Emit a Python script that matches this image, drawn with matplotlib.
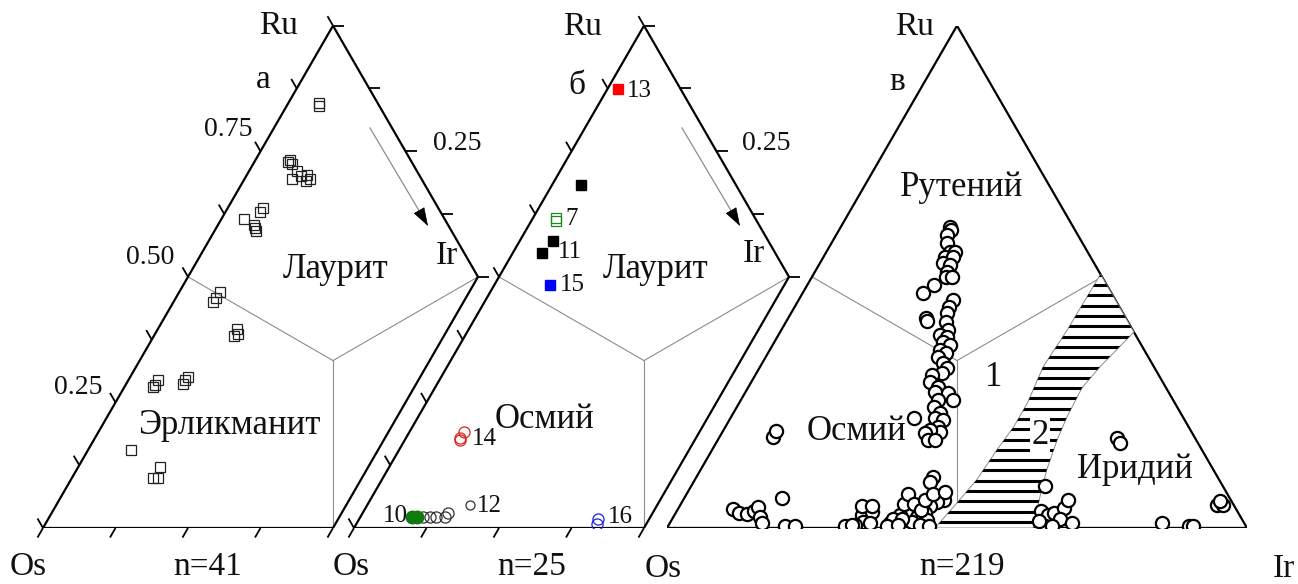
import numpy as np
import matplotlib.pyplot as plt
from matplotlib.transforms import Affine2D
from matplotlib.patches import Polygon

plt.rcParams['font.family'] = ['Liberation Serif', 'DejaVu Serif']

W, H = 1298, 584
S3 = np.sqrt(3) / 2

# ---- panel а : n=41, open squares (fractions Ru, Ir; Os = 1 - Ru - Ir)
a_ru = [0.846, 0.840, 0.729, 0.733, 0.725, 0.711, 0.695, 0.701, 0.703, 0.695, 0.690,
        0.637, 0.629, 0.615, 0.603, 0.591, 0.598, 0.470, 0.458, 0.450, 0.396, 0.382,
        0.386, 0.295, 0.285, 0.281, 0.301, 0.287, 0.295, 0.155, 0.121, 0.100, 0.100]
a_ir = [0.053, 0.056, 0.058, 0.060, 0.067, 0.083, 0.081, 0.095, 0.104, 0.113, 0.108,
        0.060, 0.059, 0.039, 0.062, 0.071, 0.066, 0.070, 0.069, 0.068, 0.136, 0.138,
        0.143, 0.051, 0.051, 0.050, 0.100, 0.098, 0.098, 0.074, 0.142, 0.140, 0.148]

# ---- panel б : n=25, numbered analyses
b_black_ru, b_black_ir = [0.683, 0.571, 0.547], [0.050, 0.057, 0.050]
b13_ru, b13_ir = [0.874], [0.018]
b7_ru, b7_ir = [0.617, 0.611], [0.040, 0.043]
b15_ru, b15_ir = [0.484], [0.096]
b14_ru, b14_ir = [0.191, 0.175, 0.180], [0.095, 0.096, 0.093]
b10_ru, b10_ir = [0.022, 0.022], [0.089, 0.098]
b12_ru, b12_ir = [0.046], [0.177]
b_open_ru = [0.022, 0.022, 0.022, 0.022, 0.030]
b_open_ir = [0.108, 0.120, 0.130, 0.146, 0.147]
b16_ru, b16_ir = [0.018, 0.008], [0.412, 0.415]

# ---- panel в : n=219
v_ru = [0.599, 0.593, 0.583, 0.567, 0.549, 0.549, 0.540, 0.540, 0.528, 0.524, 0.510, 0.500, 0.500,
        0.484, 0.468,
        0.454, 0.440, 0.428, 0.418, 0.412, 0.410, 0.394, 0.384, 0.380, 0.370, 0.364, 0.354,
        0.348, 0.340, 0.328, 0.319, 0.309,
        0.305, 0.291, 0.281, 0.271, 0.269, 0.255, 0.255, 0.241, 0.229, 0.219, 0.215, 0.201,
        0.191, 0.195, 0.189, 0.219, 0.175, 0.175,
        0.102, 0.092,
        0.056, 0.052, 0.044, 0.036, 0.030, 0.030, 0.026, 0.022, 0.016, 0.012, 0.016, 0.010,
        0.006, 0.006, 0.026, 0.032, 0.012, 0.006, 0.002, 0.004, 0.006, 0.010, 0.044, 0.044,
        0.018, 0.018, 0.048, 0.068, 0.048, 0.036, 0.056, 0.068, 0.072, 0.004, 0.004, 0.006,
        0.037, 0.030, 0.027, 0.033, 0.041, 0.022, 0.010,
        0.060, 0.004, 0.004,
        0.084, 0.034, 0.026, 0.030, 0.040, 0.056, 0.018, 0.010, 0.004, 0.014, 0.004,
        0.010, 0.004, 0.004, 0.046, 0.046, 0.054,
        0.179, 0.169, 0.181, 0.193]
v_ir = [0.188, 0.194, 0.192, 0.199, 0.213, 0.222, 0.209, 0.223, 0.212, 0.226, 0.228, 0.231, 0.241,
        0.218, 0.207,
        0.266, 0.266, 0.269, 0.238, 0.242, 0.276, 0.287, 0.279, 0.293, 0.291, 0.306, 0.294,
        0.307, 0.297, 0.312, 0.324, 0.320,
        0.305, 0.308, 0.326, 0.327, 0.350, 0.366, 0.339, 0.339, 0.357, 0.353, 0.369, 0.366,
        0.376, 0.356, 0.351, 0.317, 0.362, 0.374,
        0.408, 0.407,
        0.450, 0.440, 0.431, 0.418, 0.430, 0.399, 0.389, 0.420, 0.397, 0.416, 0.440, 0.379,
        0.390, 0.433, 0.323, 0.337, 0.332, 0.321, 0.309, 0.305, 0.316, 0.345, 0.314, 0.331,
        0.381, 0.396, 0.385, 0.382, 0.402, 0.420, 0.417, 0.425, 0.443, 0.450, 0.377, 0.395,
        0.096, 0.109, 0.125, 0.134, 0.137, 0.149, 0.159,
        0.168, 0.201, 0.219,
        0.610, 0.628, 0.644, 0.652, 0.664, 0.663, 0.669, 0.693, 0.650, 0.634, 0.662,
        0.848, 0.898, 0.905, 0.925, 0.936, 0.926,
        0.686, 0.696, 0.092, 0.091]

# field 2 (hatched) outline
f2_ru = [0.505, 0.390, 0.321, 0.279, 0.221, 0.175, 0.115, 0.062, 0.0,
         0.0, 0.050, 0.096, 0.155, 0.201, 0.249, 0.321, 0.394, 0.460]
f2_ir = [0.495, 0.610, 0.586, 0.576, 0.579, 0.585, 0.597, 0.612, 0.631,
         0.462, 0.475, 0.486, 0.491, 0.497, 0.497, 0.488, 0.493, 0.494]

fig = plt.figure(figsize=(W / 100, H / 100), dpi=100)

BASE = 528
SIDE = 580
TICK = 11 / SIDE
GRAY = '#8c8c8c'


def make_panel(ox):
    ax = fig.add_axes([ox / W, (H - BASE) / H, SIDE / W, SIDE * S3 / H])
    ax.set_xlim(0, 1)
    ax.set_ylim(0, S3)
    ax.axis('off')
    ax.patch.set_alpha(0)
    tern = Affine2D(np.array([[1, 0.5, 0], [0, S3, 0], [0, 0, 1]])) + ax.transData
    return ax, tern


def fields(ax, tern):
    c = 1 / 3
    for ir, ru in [(0, 0.5), (0.5, 0.5), (0.5, 0)]:
        ax.plot([c, ir], [c, ru], color=GRAY, lw=0.8, transform=tern, zorder=1)


def ticks(ax, ru_vals, ir_vals, ang):
    th = np.deg2rad(ang)
    for ru, ir in zip(ru_vals, ir_vals):
        x, y = ir + ru / 2, ru * S3
        ax.plot([x, x + TICK * np.cos(th)], [y, y + TICK * np.sin(th)],
                color='black', lw=1.3, solid_capstyle='butt', clip_on=False)


def half_panel(ox):
    ax, tern = make_panel(ox)
    fields(ax, tern)
    ax.plot([0, 0, 0.5, 0.5, 0], [0, 1, 0.5, 0, 0], color='black', lw=1.6,
            transform=tern, zorder=2, solid_joinstyle='miter')
    k = np.arange(0, 1.001, 0.125)
    ticks(ax, k, np.zeros_like(k), 120)
    kb = np.arange(0, 0.501, 0.125)
    ticks(ax, np.zeros_like(kb), kb, 240)
    kr = np.arange(0.5, 1.001, 0.125)
    ticks(ax, kr, 1 - kr, 0)
    return ax, tern


# panel а
ax_a, t_a = half_panel(43)
ax_a.plot(a_ir, a_ru, 's', ms=7, mfc='none', mec='#222222', mew=0.9, transform=t_a, zorder=3)

# panel б
ax_b, t_b = half_panel(354)
ax_b.plot(b_black_ir, b_black_ru, 's', ms=7, color='black', transform=t_b, zorder=3)
ax_b.plot(b13_ir, b13_ru, 's', ms=7, color='#ff0000', transform=t_b, zorder=3)
ax_b.plot(b15_ir, b15_ru, 's', ms=7, color='#0000ff', transform=t_b, zorder=3)
ax_b.plot(b7_ir, b7_ru, 's', ms=7, mfc='none', mec='#1a8a1a', mew=0.9, transform=t_b, zorder=3)
ax_b.plot(b14_ir, b14_ru, 'o', ms=8, mfc='none', mec='#e02020', mew=0.9, transform=t_b, zorder=3)
ax_b.plot(b_open_ir, b_open_ru, 'o', ms=8, mfc='none', mec='#333333', mew=0.9, transform=t_b, zorder=3)
ax_b.plot(b10_ir, b10_ru, 'o', ms=9, color='#107a10', transform=t_b, zorder=4)
ax_b.plot(b12_ir, b12_ru, 'o', ms=6.5, mfc='none', mec='#333333', mew=0.9, transform=t_b, zorder=3)
ax_b.plot(b16_ir, b16_ru, 'o', ms=8, mfc='none', mec='#2020e0', mew=0.9, transform=t_b, zorder=3)

# panel в
ax_v, t_v = make_panel(667)
fields(ax_v, t_v)
ax_v.plot([0, 0, 1], [0, 1, 0], color='black', lw=1.6, transform=t_v, zorder=2)
ax_v.plot([0, 1], [0, 0], color='black', lw=2.4, transform=t_v, zorder=2)

f2 = Polygon(np.column_stack([f2_ir, f2_ru]), closed=True, transform=t_v,
             facecolor='white', edgecolor=GRAY, lw=0.7, zorder=2)
ax_v.add_patch(f2)
for lv in np.arange(0.012, 0.51, 0.0205):
    ln, = ax_v.plot([0, 1 - lv], [lv, lv], color='black', lw=2.2, transform=t_v, zorder=2.5)
    ln.set_clip_path(f2)

ax_v.plot(v_ir, v_ru, 'o', ms=9.5, mfc='white', mec='black', mew=1.6, transform=t_v, zorder=4)

# ---- text layer (figure pixels)
bg = fig.add_axes([0, 0, 1, 1], zorder=5)
bg.set_xlim(0, W)
bg.set_ylim(H, 0)
bg.axis('off')
bg.patch.set_alpha(0)

big = 24
reg = 25

def txt(x, y, s, size=big, ha='center', **kw):
    bg.text(x, y, s, fontsize=size, ha=ha, va='center', color='#111111', **kw)

for x, y, s in [(279, 26, 'Ru'), (583, 27, 'Ru'), (914, 27, 'Ru'),
                (28, 567, 'Os'), (351, 567, 'Os'), (663, 569, 'Os'),
                (1284, 569, 'Ir'), (447, 256, 'Ir'), (754, 254, 'Ir'),
                (208, 567, 'n=41'), (532, 567, 'n=25'), (962, 567, 'n=219'),
                (263, 80, 'а'), (577, 86, 'б'), (897, 82, 'в')]:
    txt(x, y, s)

for x, y, s in [(228, 130, '0.75'), (150, 258, '0.50'), (78, 388, '0.25'),
                (457, 144, '0.25'), (766, 144, '0.25')]:
    txt(x, y, s, size=20)

for x, y, s in [(336, 270, 'Лаурит'), (229, 425, 'Эрликманит'), (656, 270, 'Лаурит'),
                (545, 420, 'Осмий'), (962, 188, 'Рутений'), (857, 431, 'Осмий'),
                (1135, 470, 'Иридий'), (994, 377, '1')]:
    txt(x, y, s, size=reg)
txt(1040, 436, '2', size=reg, bbox=dict(facecolor='white', edgecolor='none', pad=1))

for x, y, s in [(627, 91, '13'), (565, 219, '7'), (558, 252, '11'), (560, 285, '15'),
                (472, 439, '14'), (477, 506, '12'), (608, 517, '16')]:
    txt(x, y, s, size=18, ha='left')
txt(408, 516, '10', size=18, ha='right')

# arrows
for x0, x1 in [(370, 428), (682, 740)]:
    bg.plot([x0, x1 - 4], [128, 219], color=GRAY, lw=0.9)
    bg.annotate('', xy=(x1, 226), xytext=(x1 - 8, 212),
                arrowprops=dict(arrowstyle='-|>,head_length=1.2,head_width=0.4',
                                color='black', lw=0.5, shrinkA=0, shrinkB=0))

fig.savefig('out.png', dpi=100)
